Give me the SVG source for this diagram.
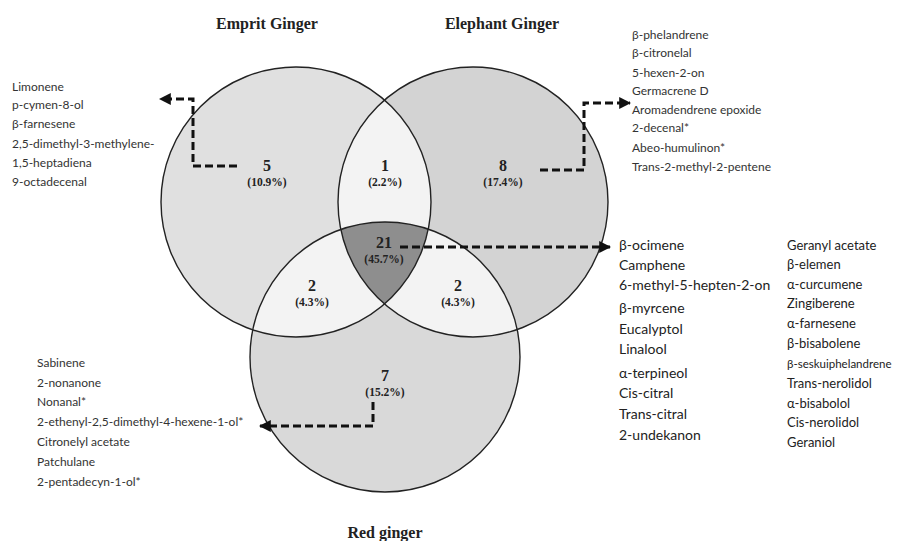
<svg xmlns="http://www.w3.org/2000/svg" width="900" height="541" viewBox="0 0 900 541">
<style>
.title{font-family:"Liberation Serif","Times New Roman",serif;font-weight:bold;font-size:16px;fill:#222;text-anchor:middle}
.num{font-family:"Liberation Serif","Times New Roman",serif;font-weight:bold;font-size:16px;fill:#222;text-anchor:middle}
.pct{font-family:"Liberation Serif","Times New Roman",serif;font-weight:bold;font-size:11.5px;fill:#222;text-anchor:middle}
.lst{font-family:Lato,"Liberation Sans",sans-serif;font-size:12px;fill:#333}
.lstb{font-family:Lato,"Liberation Sans",sans-serif;font-size:14px;fill:#222}
.lstc{font-family:Lato,"Liberation Sans",sans-serif;font-size:13px;fill:#222}
.ring{fill:none;stroke:#222;stroke-width:1.4}
.conn{fill:none;stroke:#111;stroke-width:3;stroke-dasharray:8 4}
</style>
<defs>
<clipPath id="c1"><circle cx="296" cy="202" r="135"/></clipPath>
<clipPath id="c2"><circle cx="473" cy="202" r="135"/></clipPath>
<clipPath id="c3"><circle cx="385" cy="357" r="135"/></clipPath>
<marker id="ah" viewBox="0 0 10 10" refX="9" refY="5" markerWidth="4" markerHeight="4" orient="auto" markerUnits="strokeWidth">
<path d="M0,0 L10,5 L0,10 z" fill="#111"/>
</marker>
</defs>
<rect width="900" height="541" fill="#fff"/>

<g id="venn-fills">
<circle cx="296" cy="202" r="135" fill="#e0e0e0"/>
<circle cx="473" cy="202" r="135" fill="#d3d3d3"/>
<circle cx="385" cy="357" r="135" fill="#d9d9d9"/>
<g clip-path="url(#c1)"><circle cx="473" cy="202" r="135" fill="#f3f3f3"/><circle cx="385" cy="357" r="135" fill="#f3f3f3"/></g>
<g clip-path="url(#c2)"><circle cx="385" cy="357" r="135" fill="#f3f3f3"/></g>
<g clip-path="url(#c1)"><g clip-path="url(#c2)"><circle cx="385" cy="357" r="135" fill="#8e8e8e"/></g></g>
</g>

<g id="emprit">
<circle class="ring" cx="296" cy="202" r="135"/>
<text class="title" x="267" y="29">Emprit Ginger</text>
</g>
<g id="elephant">
<circle class="ring" cx="473" cy="202" r="135"/>
<text class="title" x="502" y="29">Elephant Ginger</text>
</g>
<g id="red">
<circle class="ring" cx="385" cy="357" r="135"/>
<text class="title" x="385" y="538">Red ginger</text>
</g>

<g id="region-labels">
<text class="num" x="267" y="171">5</text><text class="pct" x="267" y="186">(10.9%)</text>
<text class="num" x="385" y="171">1</text><text class="pct" x="385" y="186">(2.2%)</text>
<text class="num" x="503" y="171">8</text><text class="pct" x="503" y="186">(17.4%)</text>
<text class="num" x="384" y="248">21</text><text class="pct" x="384" y="263">(45.7%)</text>
<text class="num" x="312" y="291">2</text><text class="pct" x="312" y="306">(4.3%)</text>
<text class="num" x="458" y="291">2</text><text class="pct" x="458" y="306">(4.3%)</text>
<text class="num" x="385" y="381">7</text><text class="pct" x="385" y="396">(15.2%)</text>
</g>

<g id="connectors">
<path class="conn" d="M237,166 H193 V99 H160" marker-end="url(#ah)"/>
<path class="conn" d="M540,170 H584 V103 H630" marker-end="url(#ah)"/>
<path class="conn" d="M400,247 H610" marker-end="url(#ah)"/>
<path class="conn" d="M373,402 V426 H260" marker-end="url(#ah)"/>
</g>

<g id="list-emprit">
<text class="lst" x="12" y="91">Limonene</text>
<text class="lst" x="12" y="109">p-cymen-8-ol</text>
<text class="lst" x="12" y="128">β-farnesene</text>
<text class="lst" x="12" y="148">2,5-dimethyl-3-methylene-</text>
<text class="lst" x="12" y="167">1,5-heptadiena</text>
<text class="lst" x="12" y="186">9-octadecenal</text>
</g>

<g id="list-elephant">
<text class="lst" x="632" y="39">β-phelandrene</text>
<text class="lst" x="632" y="57">β-citronelal</text>
<text class="lst" x="632" y="77">5-hexen-2-on</text>
<text class="lst" x="632" y="95">Germacrene D</text>
<text class="lst" x="632" y="114">Aromadendrene epoxide</text>
<text class="lst" x="632" y="132">2-decenal*</text>
<text class="lst" x="632" y="152">Abeo-humulinon*</text>
<text class="lst" x="632" y="171">Trans-2-methyl-2-pentene</text>
</g>

<g id="list-common">
<text class="lstb" x="619" y="250">β-ocimene</text>
<text class="lstb" x="619" y="270">Camphene</text>
<text class="lstb" x="619" y="290">6-methyl-5-hepten-2-on</text>
<text class="lstb" x="619" y="313">β-myrcene</text>
<text class="lstb" x="619" y="334">Eucalyptol</text>
<text class="lstb" x="619" y="354">Linalool</text>
<text class="lstb" x="619" y="378">α-terpineol</text>
<text class="lstb" x="619" y="398">Cis-citral</text>
<text class="lstb" x="619" y="419">Trans-citral</text>
<text class="lstb" x="619" y="440">2-undekanon</text>
<text class="lstc" x="787" y="250">Geranyl acetate</text>
<text class="lstc" x="787" y="269">β-elemen</text>
<text class="lstc" x="787" y="289">α-curcumene</text>
<text class="lstc" x="787" y="308">Zingiberene</text>
<text class="lstc" x="787" y="328">α-farnesene</text>
<text class="lstc" x="787" y="348">β-bisabolene</text>
<text class="lstc" x="787" y="368" style="font-size:11.5px">β-seskuiphelandrene</text>
<text class="lstc" x="787" y="388">Trans-nerolidol</text>
<text class="lstc" x="787" y="408">α-bisabolol</text>
<text class="lstc" x="787" y="427">Cis-nerolidol</text>
<text class="lstc" x="787" y="447">Geraniol</text>
</g>

<g id="list-red">
<text class="lst" x="37" y="367">Sabinene</text>
<text class="lst" x="37" y="387">2-nonanone</text>
<text class="lst" x="37" y="406">Nonanal*</text>
<text class="lst" x="37" y="426">2-ethenyl-2,5-dimethyl-4-hexene-1-ol*</text>
<text class="lst" x="37" y="446">Citronelyl acetate</text>
<text class="lst" x="37" y="466">Patchulane</text>
<text class="lst" x="37" y="486">2-pentadecyn-1-ol*</text>
</g>
</svg>
